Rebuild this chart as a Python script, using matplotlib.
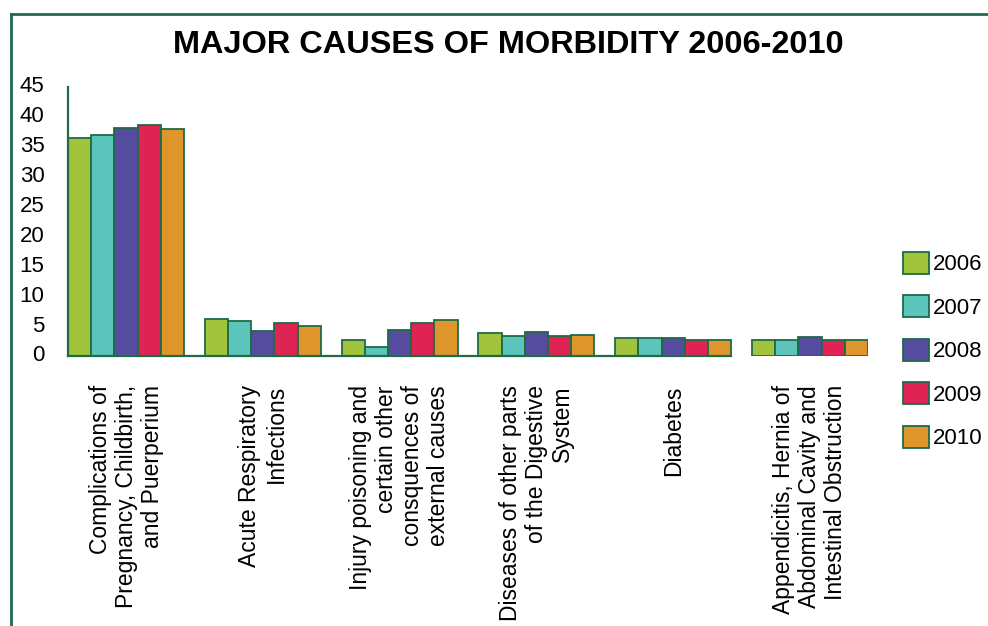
import matplotlib
matplotlib.use("Agg")
import matplotlib.pyplot as plt
from matplotlib.lines import Line2D
import matplotlib.transforms as mtransforms
import numpy as np

plt.rcParams['font.family'] = ['Liberation Sans', 'DejaVu Sans']

categories = [
    "Complications of\nPregnancy, Childbirth,\nand Puerperium",
    "Acute Respiratory\nInfections",
    "Injury poisoning and\ncertain other\nconsquences of\nexternal causes",
    "Diseases of other parts\nof the Digestive\nSystem",
    "Diabetes",
    "Appendicitis, Hernia of\nAbdominal Cavity and\nIntestinal Obstruction",
]
years = ["2006", "2007", "2008", "2009", "2010"]
v2006 = [36.5, 6.2, 2.7, 3.8, 3.0, 2.6]
v2007 = [36.95, 5.8, 1.5, 3.35, 3.0, 2.6]
v2008 = [38.2, 4.2, 4.35, 3.95, 3.0, 3.1]
v2009 = [38.6, 5.6, 5.6, 3.35, 2.6, 2.6]
v2010 = [37.9, 5.0, 6.1, 3.55, 2.6, 2.6]
series = [v2006, v2007, v2008, v2009, v2010]
colors = ["#a2c33c", "#5bc4bb", "#554c9f", "#df2354", "#de962c"]
yticks = [0, 5, 10, 15, 20, 25, 30, 35, 40, 45]

edge = "#1f6b45"
fig = plt.figure(figsize=(9.88, 6.26), dpi=100)
ax = fig.add_axes([68/988, 1-356/626, 800/988, (356-87)/626])

x = np.arange(len(categories))
w = 0.17
for j, (vals, c, yr) in enumerate(zip(series, colors, years)):
    ax.bar(x + (j-2)*w, vals, width=w, color=c, edgecolor=edge, linewidth=1.3, label=yr)

ax.set_xlim(-2.5*w, len(categories)-1+2.5*w)
ax.set_ylim(0, 45)
ax.set_yticks(yticks)
ax.set_yticklabels([str(t) for t in yticks], fontsize=16)
ax.tick_params(axis='y', length=0, pad=17)
offset = mtransforms.ScaledTranslation(0, 2.5/100, fig.dpi_scale_trans)
for lab in ax.get_yticklabels():
    lab.set_transform(lab.get_transform() + offset)
ax.set_xticks(x)
ax.set_xticklabels(categories, rotation=90, fontsize=16.5, multialignment='right',
                   linespacing=1.17, va='top', ha='center')
ax.tick_params(axis='x', length=0, pad=21)
for s in ['top', 'right']:
    ax.spines[s].set_visible(False)
for s in ['left', 'bottom']:
    ax.spines[s].set_color(edge)
    ax.spines[s].set_linewidth(1.6)
ax.spines['bottom'].set_bounds(-2.5*w, 4+2.5*w)

leg = fig.legend(loc='center left', bbox_to_anchor=(903/988, 1-350.5/626), frameon=False,
                 fontsize=16, handlelength=1.15, handleheight=1.15, labelspacing=0.9,
                 handletextpad=0.2, borderpad=0, borderaxespad=0)

fig.text(508.5/988, 1-45/626, "MAJOR CAUSES OF MORBIDITY 2006-2010", ha='center', va='center',
         fontsize=23.4, fontweight='bold')

fc = "#1d6b52"
fig.add_artist(Line2D([11/988, 1], [1-14/626, 1-14/626], color=fc, lw=2, transform=fig.transFigure))
fig.add_artist(Line2D([11/988, 11/988], [0, 1-14/626], color=fc, lw=2, transform=fig.transFigure))

fig.savefig("out.png", dpi=100)
